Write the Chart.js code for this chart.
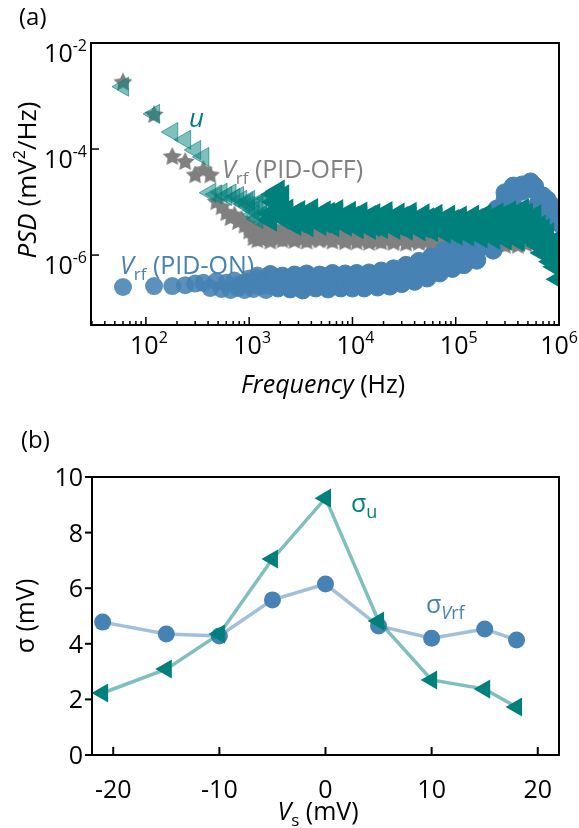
<!DOCTYPE html>
<html>
<head>
<meta charset="utf-8">
<script src="https://cdn.jsdelivr.net/npm/chart.js@4.4.1/dist/chart.umd.min.js"></script>
<style>
  html, body { margin: 0; padding: 0; background: #fff; }
  #wrap { position: relative; width: 579px; height: 828px; }
  canvas { position: absolute; left: 0; }
  #psdChart { top: 0; }
  #sigmaChart { top: 414px; }
</style>
</head>
<body>
<div id="wrap">
  <canvas id="psdChart" width="579" height="414"></canvas>
  <canvas id="sigmaChart" width="579" height="414"></canvas>
</div>
<script>
// (a) noise spectra, first harmonics of the 60 Hz bin spacing
const freqLow = [60, 120, 180, 240, 300, 360, 420, 480, 540, 600, 660, 720, 780, 840, 900, 960];
const uLow = [1.5e-3, 4.6e-4, 2.1e-4, 1.5e-4, 9.6e-5, 7.1e-5, 1.5e-5, 1.4e-5, 1.5e-5, 1.3e-5, 1.45e-5, 1.2e-5, 1.3e-5, 1.1e-5, 9e-6, 1.0e-5];
const offLow = [1.8e-3, 4.4e-4, 7.1e-5, 5.7e-5, 3.2e-5, 4.0e-5, 3.2e-5, 1.0e-5, 8.0e-6, 6.2e-6, 5.0e-6, 5.6e-6, 4.2e-6, 4.6e-6, 3.6e-6, 3.8e-6];
const onLow = [2.5e-7, 2.6e-7, 2.6e-7, 2.7e-7, 2.9e-7, 3.0e-7, 2.4e-7, 3.2e-7, 2.3e-7, 3.0e-7, 2.2e-7, 3.3e-7, 2.4e-7, 2.9e-7, 2.2e-7, 3.1e-7];

// (a) noise spectra above 1 kHz, two thinned sweeps on the same grid
const freqHigh = [
  1000, 1100, 1200, 1300, 1450, 1600, 1750, 1900, 2100, 2300, 2500, 2750, 3000, 3300, 3600, 4000, 4400, 4800, 5300, 5800, 6400, 7000, 7700, 8500, 9300,
  1e4, 1.1e4, 1.2e4, 1.3e4, 1.45e4, 1.6e4, 1.75e4, 1.9e4, 2.1e4, 2.3e4, 2.5e4, 2.75e4, 3e4, 3.3e4, 3.6e4, 4e4, 4.4e4, 4.8e4, 5.3e4, 5.8e4, 6.4e4, 7e4, 7.7e4, 8.5e4, 9.3e4,
  1e5, 1.1e5, 1.2e5, 1.3e5, 1.45e5, 1.6e5, 1.75e5, 1.9e5, 2.1e5, 2.3e5, 2.5e5, 2.75e5, 3e5, 3.3e5, 3.6e5, 4e5, 4.4e5, 4.8e5, 5.3e5, 5.8e5, 6.4e5, 7e5, 7.7e5, 8.5e5, 9.3e5, 1e6
];
const uHighA = [
  1.1e-5, 7.0e-6, 4.8e-6, 1.0e-5, 6.5e-6, 4.6e-6, 1.4e-5, 1.6e-5, 5.0e-6,
  7.0e-6, 5.1e-6, 3.8e-6, 6.6e-6, 4.9e-6, 3.6e-6, 7.2e-6, 5.2e-6, 3.8e-6, 6.5e-6, 4.8e-6, 3.6e-6, 6.9e-6, 5.0e-6, 3.7e-6, 6.4e-6,
  4.6e-6, 3.3e-6, 6.2e-6, 4.5e-6, 3.2e-6, 5.8e-6, 4.4e-6, 3.3e-6, 6.3e-6, 4.5e-6, 3.2e-6, 5.9e-6, 4.3e-6, 3.1e-6, 6.1e-6, 4.4e-6, 3.0e-6, 5.7e-6, 4.2e-6, 2.9e-6, 5.6e-6, 4.0e-6, 2.7e-6, 5.4e-6, 3.9e-6,
  2.5e-6, 5.2e-6, 3.6e-6, 2.4e-6, 5.4e-6, 3.5e-6, 2.2e-6, 5.6e-6, 3.6e-6, 2.1e-6, 6.0e-6, 3.7e-6, 2.0e-6, 6.5e-6, 3.8e-6, 1.9e-6, 7.2e-6, 4.0e-6,
  2.0e-6, 5.5e-6, 3.5e-6, 1.1e-6, 2.5e-6, 1.5e-6, 6.0e-7, 3.5e-7
];
const uHighB = [
  8.5e-6, 5.8e-6, 9.0e-6, 5.5e-6, 1.2e-5, 6.0e-6, 1.0e-5, 6.5e-6, 1.3e-5,
  5.8e-6, 4.2e-6, 6.0e-6, 4.3e-6, 5.6e-6, 4.1e-6, 5.9e-6, 4.4e-6, 5.7e-6, 4.2e-6, 6.1e-6, 4.3e-6, 5.8e-6, 4.1e-6, 5.6e-6, 4.2e-6,
  5.2e-6, 3.7e-6, 5.0e-6, 3.8e-6, 5.3e-6, 3.6e-6, 5.1e-6, 3.7e-6, 5.2e-6, 3.6e-6, 5.0e-6, 3.7e-6, 5.1e-6, 3.5e-6, 4.9e-6, 3.6e-6, 5.0e-6, 3.4e-6, 4.8e-6, 3.5e-6, 4.7e-6, 3.3e-6, 4.6e-6, 3.2e-6, 4.5e-6,
  3.1e-6, 4.5e-6, 2.9e-6, 4.6e-6, 2.8e-6, 4.7e-6, 2.8e-6, 4.9e-6, 2.7e-6, 5.1e-6, 2.7e-6, 5.4e-6, 2.6e-6, 5.8e-6, 2.6e-6, 6.2e-6, 2.5e-6, 6.0e-6,
  4.5e-6, 2.5e-6, 1.5e-6, 3.0e-6, 1.2e-6, 7.5e-7, 1.9e-6, 9.0e-7
];
const offHighA = [
  3.4e-6, 2.5e-6, 1.9e-6, 3.2e-6, 2.4e-6, 1.8e-6, 3.3e-6, 2.3e-6, 1.9e-6,
  3.1e-6, 2.4e-6, 1.85e-6, 3.0e-6, 2.3e-6, 1.8e-6, 3.2e-6, 2.4e-6, 1.9e-6, 2.9e-6, 2.2e-6, 1.8e-6, 3.0e-6, 2.3e-6, 1.75e-6, 2.9e-6,
  2.2e-6, 1.75e-6, 2.9e-6, 2.2e-6, 1.7e-6, 2.8e-6, 2.1e-6, 1.75e-6, 2.9e-6, 2.2e-6, 1.7e-6, 2.8e-6, 2.1e-6, 1.65e-6, 2.7e-6, 2.1e-6, 1.7e-6, 2.7e-6, 2.0e-6, 1.65e-6, 2.6e-6, 2.0e-6, 1.65e-6, 2.6e-6, 2.0e-6,
  1.6e-6, 2.5e-6, 1.95e-6, 1.6e-6, 2.5e-6, 1.9e-6, 1.55e-6, 2.4e-6, 1.9e-6, 1.55e-6, 2.4e-6, 1.85e-6, 1.5e-6, 2.3e-6, 1.8e-6, 1.5e-6, 2.2e-6, 1.6e-6,
  null, null, null, null, null, null, null, null
];
const offHighB = [
  2.8e-6, 2.1e-6, 2.7e-6, 2.0e-6, 2.9e-6, 2.1e-6, 2.6e-6, 2.0e-6, 2.8e-6,
  2.0e-6, 2.6e-6, 2.1e-6, 2.7e-6, 2.0e-6, 2.6e-6, 1.95e-6, 2.7e-6, 2.05e-6, 2.5e-6, 1.95e-6, 2.6e-6, 2.0e-6, 2.5e-6, 1.9e-6, 2.6e-6,
  1.95e-6, 2.5e-6, 1.9e-6, 2.4e-6, 1.95e-6, 2.5e-6, 1.85e-6, 2.4e-6, 1.9e-6, 2.4e-6, 1.85e-6, 2.3e-6, 1.9e-6, 2.4e-6, 1.8e-6, 2.3e-6, 1.85e-6, 2.3e-6, 1.8e-6, 2.2e-6, 1.85e-6, 2.3e-6, 1.8e-6, 2.2e-6, 1.8e-6,
  2.1e-6, 1.75e-6, 2.2e-6, 1.75e-6, 2.1e-6, 1.7e-6, 2.1e-6, 1.7e-6, 2.0e-6, 1.7e-6, 2.0e-6, 1.65e-6, 2.0e-6, 1.65e-6, 1.9e-6, 1.65e-6, 1.9e-6, 1.7e-6,
  null, null, null, null, null, null, null, null
];
const onHighA = [
  3.1e-7, 2.3e-7, 4.1e-7, 3.0e-7, 2.2e-7, 4.3e-7, 3.2e-7, 2.4e-7, 4.0e-7, 3.1e-7, 2.3e-7, 4.2e-7, 3.0e-7, 2.2e-7, 4.4e-7, 3.2e-7, 2.4e-7, 4.2e-7, 3.1e-7, 2.3e-7, 4.5e-7, 3.3e-7, 2.4e-7, 4.4e-7, 3.2e-7,
  2.4e-7, 4.5e-7, 3.2e-7, 2.4e-7, 4.6e-7, 3.3e-7, 2.5e-7, 5.0e-7, 3.5e-7, 2.6e-7, 5.5e-7, 3.8e-7, 2.9e-7, 6.4e-7, 4.4e-7, 3.2e-7, 7.6e-7, 5.2e-7, 3.7e-7, 9.2e-7, 6.4e-7, 4.6e-7, 1.2e-6, 8.0e-7, 5.6e-7,
  1.5e-6, 1.0e-6, 6.6e-7, 1.9e-6, 1.2e-6, 8.0e-7, 2.7e-6, 1.8e-6, 3.1e-6, 1.24e-6, 7.4e-6, 4.2e-6, 1.1e-5, 2.3e-6, 2.0e-5, 7.1e-6, 2.1e-5, 2.3e-6,
  2.4e-5, 7.7e-6, 1.4e-5, 3.2e-6, 1.1e-5, 5.4e-6, 5.9e-6, 5.7e-6
];
const onHighB = [
  3.6e-7, 2.7e-7, 3.7e-7, 2.6e-7, 3.5e-7, 2.7e-7, 3.8e-7, 2.6e-7, 3.6e-7, 2.8e-7, 3.7e-7, 2.6e-7, 3.9e-7, 2.7e-7, 3.6e-7, 2.8e-7, 3.8e-7, 2.7e-7, 3.9e-7, 2.8e-7, 3.8e-7, 2.7e-7, 4.0e-7, 2.8e-7, 3.9e-7,
  2.8e-7, 3.9e-7, 2.8e-7, 4.0e-7, 2.9e-7, 4.1e-7, 3.0e-7, 4.2e-7, 3.1e-7, 4.5e-7, 3.3e-7, 4.8e-7, 3.5e-7, 5.3e-7, 3.8e-7, 5.9e-7, 4.3e-7, 6.6e-7, 4.8e-7, 7.6e-7, 5.5e-7, 8.8e-7, 6.5e-7, 1.0e-6, 7.4e-7,
  1.25e-6, 8.5e-7, 1.5e-6, 1.0e-6, 1.8e-6, 1.2e-6, 2.2e-6, 1.5e-6, 3.8e-6, 2.0e-6, 6.0e-6, 2.8e-6, 1.5e-5, 4.5e-6, 1.3e-5, 3.5e-6, 1.6e-5, 4.5e-6,
  1.8e-5, 2.0e-5, 1.0e-5, 1.3e-5, 6.5e-6, 8.5e-6, 7.0e-6, 4.0e-6
];
const freqTickExp = [2, 3, 4, 5, 6];
const psdTickExp = [-2, -4, -6];

// (b) standard deviation versus bias
const biasMV = [-21, -15, -10, -5, 0, 5, 10, 15, 18];
const sigmaU = [2.23, 3.09, 4.35, 7.05, 9.24, 4.82, 2.7, 2.37, 1.73];
const sigmaVrf = [4.78, 4.35, 4.28, 5.58, 6.15, 4.64, 4.2, 4.53, 4.14];
const biasTicks = [-20, -10, 0, 10, 20];
const sigmaTicks = [0, 2, 4, 6, 8, 10];

const FONT = '"Open Sans", "Noto Sans", sans-serif';
const TEAL = '#00807c';
const BLUE = '#4682b4';
const GRAY = '#808080';

function toPoints(xs, ys) {
  const pts = [];
  xs.forEach((v, i) => { if (ys[i] != null) pts.push({ x: v, y: ys[i] }); });
  return pts;
}

// filled five-point star used as marker
function makeStar(r, color) {
  const c = document.createElement('canvas');
  c.width = c.height = 2 * r + 2;
  const g = c.getContext('2d');
  g.fillStyle = color;
  g.beginPath();
  for (let k = 0; k < 10; k++) {
    const rr = k % 2 === 0 ? r : r * 0.5;
    const a = -Math.PI / 2 + k * Math.PI / 5;
    g.lineTo(r + 1 + rr * Math.cos(a), r + 1 + rr * Math.sin(a));
  }
  g.closePath();
  g.fill();
  return c;
}

// draw a run of differently styled pieces: [text, font, dy]
function drawParts(ctx, parts, x, y, align) {
  let w = 0;
  parts.forEach(p => { ctx.font = p[1]; w += ctx.measureText(p[0]).width; });
  let cx = align === 'center' ? x - w / 2 : align === 'right' ? x - w : x;
  if (cx + w > ctx.canvas.width - 1) cx = ctx.canvas.width - 1 - w;
  ctx.textAlign = 'left';
  ctx.textBaseline = 'alphabetic';
  parts.forEach(p => {
    ctx.font = p[1];
    ctx.fillText(p[0], cx, y + (p[2] || 0));
    cx += ctx.measureText(p[0]).width;
  });
}

function tick(ctx, x1, y1, x2, y2) {
  ctx.beginPath();
  ctx.moveTo(x1, y1);
  ctx.lineTo(x2, y2);
  ctx.stroke();
}

const F_TICK = '25px ' + FONT;
const F_SUP = '16px ' + FONT;
const F_LAB = '25px ' + FONT;
const F_LAB_I = 'italic 25px ' + FONT;
const F_SUB = '17px ' + FONT;

const psdDecor = {
  id: 'psdDecor',
  afterDraw(chart) {
    const { ctx, chartArea: a, scales: { x, y } } = chart;
    ctx.save();
    ctx.strokeStyle = '#000';
    ctx.lineWidth = 2;
    ctx.strokeRect(a.left, a.top, a.right - a.left, a.bottom - a.top);

    ctx.lineWidth = 1.5;
    for (let e = 1; e <= 6; e++) {
      for (let m = 1; m <= 9; m++) {
        const v = m * Math.pow(10, e);
        if (v < x.min || v > x.max) continue;
        const px = x.getPixelForValue(v);
        tick(ctx, px, a.bottom, px, a.bottom - (m === 1 ? 8 : 4));
      }
    }
    psdTickExp.forEach(e => {
      const py = y.getPixelForValue(Math.pow(10, e));
      tick(ctx, a.left, py, a.left + 8, py);
    });

    ctx.fillStyle = '#000';
    freqTickExp.forEach(e => {
      const px = x.getPixelForValue(Math.pow(10, e));
      drawParts(ctx, [['10', F_TICK], [String(e), F_SUP, -11]], px + 3, 354, 'center');
    });
    psdTickExp.forEach(e => {
      const py = y.getPixelForValue(Math.pow(10, e));
      drawParts(ctx, [['10', F_TICK], [String(e), F_SUP, -11]], 87, py + 19, 'right');
    });

    drawParts(ctx, [['Frequency', F_LAB_I], [' (Hz)', F_LAB]], 323, 393, 'center');
    ctx.save();
    ctx.translate(36, 180);
    ctx.rotate(-Math.PI / 2);
    drawParts(ctx, [['PSD', 'italic 26px ' + FONT], [' (mV', '26px ' + FONT], ['2', F_SUP, -11], ['/Hz)', '26px ' + FONT]], 0, 0, 'center');
    ctx.restore();

    ctx.font = '24px ' + FONT;
    ctx.textAlign = 'left';
    ctx.fillText('(a)', 19, 25);

    ctx.fillStyle = TEAL;
    drawParts(ctx, [['u', 'italic 26px ' + FONT]], 189, 127, 'left');
    ctx.fillStyle = GRAY;
    drawParts(ctx, [['V', F_LAB_I], ['rf', F_SUB, 6], [' (PID-OFF)', F_LAB]], 222, 178, 'left');
    ctx.fillStyle = BLUE;
    drawParts(ctx, [['V', F_LAB_I], ['rf', F_SUB, 6], [' (PID-ON)', F_LAB]], 120, 274, 'left');
    ctx.restore();
  }
};

// dense part of the spectra (above ~1.5 kHz) is drawn opaque
const dense = (c, solid, light) => (c.raw && c.raw.x > 1500 ? solid : light);
const freqAll = freqLow.concat(freqHigh, freqHigh);

new Chart(document.getElementById('psdChart'), {
  type: 'scatter',
  data: {
    datasets: [
      {
        label: 'u',
        data: toPoints(freqAll, uLow.concat(uHighA, uHighB)),
        pointStyle: 'triangle',
        rotation: -90,
        pointRadius: 11,
        backgroundColor: c => dense(c, 'rgb(0,128,124)', 'rgba(0,128,124,0.5)'),
        borderColor: c => dense(c, 'rgb(0,128,124)', 'rgba(0,128,124,0.6)'),
        borderWidth: c => dense(c, 2.5, 1)
      },
      {
        label: 'Vrf (PID-ON)',
        data: toPoints(freqAll, onLow.concat(onHighA, onHighB)),
        pointStyle: 'circle',
        pointRadius: 9,
        backgroundColor: c => dense(c, 'rgb(70,130,180)', 'rgba(70,130,180,0.88)'),
        borderColor: 'rgb(70,130,180)',
        borderWidth: c => dense(c, 1, 0)
      },
      {
        label: 'Vrf (PID-OFF)',
        data: toPoints(freqAll, offLow.concat(offHighA, offHighB)),
        pointStyle: makeStar(10, 'rgb(128,128,128)'),
        pointRadius: 10
      }
    ]
  },
  options: {
    responsive: false,
    animation: false,
    layout: { padding: { left: 91, top: 43, right: 20, bottom: 89 } },
    plugins: { legend: { display: false }, tooltip: { enabled: false } },
    scales: {
      x: { type: 'logarithmic', min: 29.4, max: 1e6, display: false },
      y: { type: 'logarithmic', min: 4.8e-8, max: 1e-2, display: false }
    }
  },
  plugins: [psdDecor]
});

const sigmaDecor = {
  id: 'sigmaDecor',
  afterDraw(chart) {
    const { ctx, chartArea: a, scales: { x, y } } = chart;
    ctx.save();
    ctx.strokeStyle = '#000';
    ctx.lineWidth = 2;
    ctx.strokeRect(a.left, a.top, a.right - a.left, a.bottom - a.top);
    ctx.fillStyle = '#000';
    biasTicks.forEach(v => {
      const px = x.getPixelForValue(v);
      tick(ctx, px, a.bottom, px, a.bottom - 8);
      drawParts(ctx, [[String(v), F_TICK]], px, 384, 'center');
    });
    sigmaTicks.forEach(v => {
      const py = y.getPixelForValue(v);
      tick(ctx, a.left, py, a.left - 7, py);
      drawParts(ctx, [[String(v), F_TICK]], 83, py + 9, 'right');
    });

    drawParts(ctx, [['V', F_LAB_I], ['s', F_SUB, 6], [' (mV)', F_LAB]], 318, 406, 'center');
    ctx.save();
    ctx.translate(34, 202);
    ctx.rotate(-Math.PI / 2);
    drawParts(ctx, [['\u03c3 (mV)', F_LAB]], 0, 0, 'center');
    ctx.restore();

    ctx.font = '24px ' + FONT;
    ctx.textAlign = 'left';
    ctx.fillText('(b)', 21, 34);

    ctx.fillStyle = TEAL;
    drawParts(ctx, [['\u03c3', F_LAB], ['u', '18px ' + FONT, 6]], 351, 98, 'left');
    ctx.fillStyle = BLUE;
    drawParts(ctx, [['\u03c3', F_LAB], ['V', 'italic 18px ' + FONT, 6], ['rf', '18px ' + FONT, 6]], 426, 199, 'left');
    ctx.restore();
  }
};

new Chart(document.getElementById('sigmaChart'), {
  type: 'scatter',
  data: {
    datasets: [
      {
        label: 'sigma u',
        data: toPoints(biasMV, sigmaU),
        showLine: true,
        borderColor: 'rgba(0,128,124,0.5)',
        borderWidth: 3.5,
        pointStyle: 'triangle',
        rotation: -90,
        pointRadius: 11,
        pointBackgroundColor: TEAL,
        pointBorderColor: TEAL,
        pointBorderWidth: 0
      },
      {
        label: 'sigma Vrf',
        data: toPoints(biasMV, sigmaVrf),
        showLine: true,
        borderColor: 'rgba(70,130,180,0.5)',
        borderWidth: 3.5,
        pointStyle: 'circle',
        pointRadius: 8.5,
        pointBackgroundColor: BLUE,
        pointBorderColor: BLUE,
        pointBorderWidth: 0
      }
    ]
  },
  options: {
    responsive: false,
    animation: false,
    layout: { padding: { left: 92, top: 63, right: 20, bottom: 73 } },
    plugins: { legend: { display: false }, tooltip: { enabled: false } },
    scales: {
      x: { type: 'linear', min: -22, max: 22, display: false },
      y: { type: 'linear', min: 0, max: 10, display: false }
    }
  },
  plugins: [sigmaDecor]
});
</script>
</body>
</html>
